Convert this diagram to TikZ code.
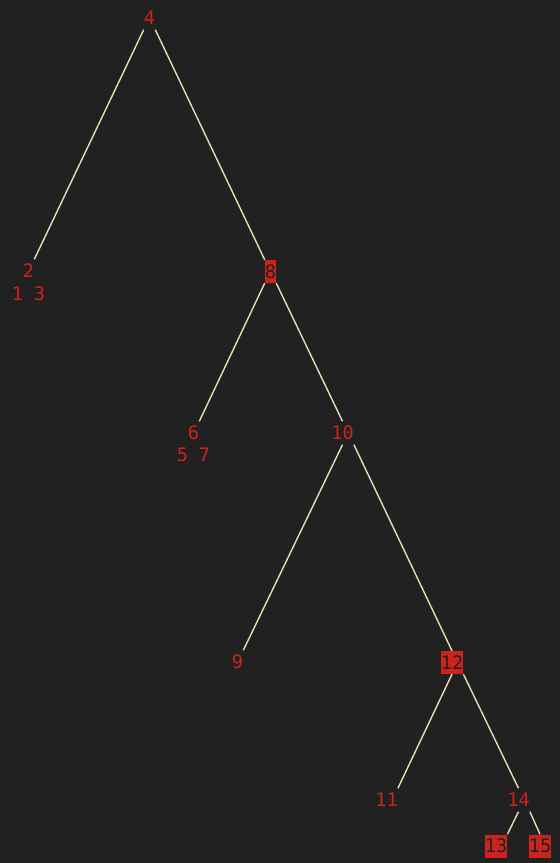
\documentclass[tikz,border=0pt]{standalone}
\usepackage{fontspec}
\setmonofont{DejaVu Sans Mono}
\usetikzlibrary{positioning}

\definecolor{bgdark}{HTML}{212121}
\definecolor{nodered}{HTML}{CC241D}
\definecolor{linecream}{HTML}{EBDBB2}

\begin{document}
\begin{tikzpicture}[ x                 = 1pt
                   , y                 = -1pt
                   , font              = \ttfamily\fontsize{18.6}{23}\selectfont
                   , every node/.style = { inner sep      = 0pt
                                         , minimum height = 23pt
                                         , minimum width  = 11pt
                                         , text           = nodered
                                         }
                   ]

  %%
  %% Node types
  %%
  \tikzset{ marked/.style={fill=nodered, text=bgdark}
          , wide/.style={minimum width=22pt}
          }

  %%
  %% Connector types
  %%
  \tikzset{ branch/.style={draw=linecream, line width=1.4pt}
          }

  \fill[bgdark] (0,0) rectangle (560,863);
  \useasboundingbox (0,0) rectangle (560,863);

  %%
  %% Nodes
  %%
  \node (n4)  at (149.5,18)                {4};
  \node (n2)  at (28.5,271)                {2};
  \node (n1)  at (17.5,294)                {1};
  \node (n3)  at (39.5,294)                {3};
  \node (n8)  [marked] at (270.5,271.5)    {8};
  \node (n6)  at (193.5,433)               {6};
  \node (n5)  at (182.5,455)               {5};
  \node (n7)  at (204.5,455)               {7};
  \node (n10) [wide] at (342.5,433)        {10};
  \node (n9)  at (237.5,662)               {9};
  \node (n12) [marked, wide] at (452,662.5) {12};
  \node (n11) [wide] at (386.5,800)        {11};
  \node (n14) [wide] at (518.5,800)        {14};
  \node (n13) [marked, wide] at (496,846)  {13};
  \node (n15) [marked, wide] at (540,846)  {15};

  %%
  %% Branches
  %%
  \path[branch] (n4.south west) edge (n2.north east);
  \path[branch] (n4.south east) edge (n8.north west);

  %%% Under 8
  \path[branch] (n8.south west) edge (n6.north east);
  \path[branch] (n8.south east) edge (n10.north);

  %%% Under 10
  \path[branch] (n10.south) edge (n9.north east);
  \path[branch] (n10.south east) edge (n12.north);

  %%% Under 12
  \path[branch] (n12.south) edge (n11.north east);
  \path[branch] (n12.south east) edge (n14.north);

  %%% Under 14
  \path[branch] (n14.south) edge (n13.north east);
  \path[branch] (n14.south east) edge (n15.north);

\end{tikzpicture}
\end{document}
